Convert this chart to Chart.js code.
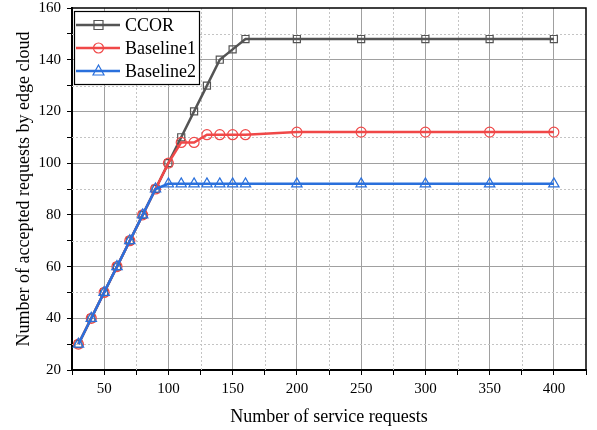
<!DOCTYPE html>
<html>
<head>
<meta charset="utf-8">
<script src="https://cdn.jsdelivr.net/npm/chart.js@4/dist/chart.umd.min.js"></script>
<style>
html,body{margin:0;padding:0;background:#fff;}
#wrap{position:relative;width:597px;height:430px;}
</style>
</head>
<body>
<div id="wrap"><canvas id="c" width="597" height="430"></canvas></div>
<script>
const xValues = [30,40,50,60,70,80,90,100,110,120,130,140,150,160,200,250,300,350,400];
const ccor = [30,40,50,60,70,80,90,100,110,120,130,140,144,148,148,148,148,148,148];
const baseline1 = [30,40,50,60,70,80,90,100,108,108,111,111,111,111,112,112,112,112,112];
const baseline2 = [30,40,50,60,70,80,90,92,92,92,92,92,92,92,92,92,92,92,92];
const seriesNames = ['CCOR','Baseline1','Baseline2'];
const xTickLabels = [50,100,150,200,250,300,350,400];
const yTickLabels = [20,40,60,80,100,120,140,160];

const FONT = "'Liberation Serif','Times New Roman',serif";
const colors = ['#545454','#f04848','#2a70dc'];
const shapes = ['rect','circle','triangle'];

function pts(ys){ return xValues.map((x,i)=>({x:x,y:ys[i]})); }

const minorGrid = {
  id:'minorGrid',
  beforeDatasetsDraw(chart){
    const {ctx, chartArea:a, scales:{x,y}} = chart;
    ctx.save();
    ctx.strokeStyle='#c4c4c4'; ctx.lineWidth=1; ctx.setLineDash([2,2]);
    for(let v=75; v<425; v+=50){
      const px=Math.round(x.getPixelForValue(v))+0.5;
      ctx.beginPath(); ctx.moveTo(px,a.top); ctx.lineTo(px,a.bottom); ctx.stroke();
    }
    for(let v=30; v<160; v+=20){
      const py=Math.round(y.getPixelForValue(v))+0.5;
      ctx.beginPath(); ctx.moveTo(a.left,py); ctx.lineTo(a.right,py); ctx.stroke();
    }
    ctx.restore();
  },
  afterDraw(chart){
    const {ctx, chartArea:a} = chart;
    ctx.save();
    ctx.strokeStyle='#000'; ctx.lineWidth=1.5;
    ctx.beginPath(); ctx.moveTo(a.left,a.top); ctx.lineTo(a.right,a.top); ctx.lineTo(a.right,a.bottom); ctx.stroke();
    // legend
    const lx=74, ly=11, lw=125, lh=73;
    ctx.fillStyle='#fff'; ctx.fillRect(lx,ly,lw,lh);
    ctx.lineWidth=1.2; ctx.strokeStyle='#000'; ctx.strokeRect(lx+0.5,ly+0.5,lw,lh);
    const rows=[25,48,71];
    ctx.font="18px "+FONT; ctx.textBaseline='middle'; ctx.textAlign='left';
    for(let i=0;i<3;i++){
      const yy=rows[i];
      ctx.strokeStyle=colors[i]; ctx.lineWidth=2.5;
      ctx.beginPath(); ctx.moveTo(76,yy); ctx.lineTo(120,yy); ctx.stroke();
      ctx.lineWidth=1.2; ctx.fillStyle='#fff';
      ctx.beginPath();
      if(i===0){ ctx.rect(94,yy-4.5,9,9); }
      else if(i===1){ ctx.arc(98.5,yy,5,0,Math.PI*2); }
      else { ctx.moveTo(98.5,yy-6); ctx.lineTo(104,yy+4); ctx.lineTo(93,yy+4); ctx.closePath(); }
      ctx.stroke();
      ctx.fillStyle='#000';
      ctx.fillText(seriesNames[i],125,yy+1);
    }
    ctx.restore();
  }
};

const mk = (i,data,order)=>({
  label:seriesNames[i], data:pts(data), borderColor:colors[i], backgroundColor:'rgba(255,255,255,0)',
  borderWidth:2.5, pointStyle:shapes[i], pointRadius: i===2?6:5, pointBorderWidth:1.2,
  pointBorderColor:colors[i], pointBackgroundColor:'rgba(255,255,255,0)', tension:0, order:order
});

new Chart(document.getElementById('c'),{
  type:'line',
  data:{datasets:[mk(0,ccor,3),mk(1,baseline1,2),mk(2,baseline2,1)]},
  plugins:[minorGrid],
  options:{
    responsive:false, animation:false, devicePixelRatio:1,
    layout:{padding:{left:13,right:11,top:8,bottom:0}},
    plugins:{legend:{display:false},tooltip:{enabled:false}},
    scales:{
      x:{type:'linear',min:25,max:425,
        afterBuildTicks(s){ s.ticks=[]; for(let v=25;v<=425;v+=25) s.ticks.push({value:v}); },
        afterFit(s){ s.height=60; s.paddingLeft=0; s.paddingRight=0; },
        ticks:{autoSkip:false,maxRotation:0,padding:5,color:'#000',font:{family:FONT,size:15},
          callback:(v)=> xTickLabels.includes(v)?String(v):''},
        grid:{color:(c)=> (c.tick && xTickLabels.includes(c.tick.value))?'#a0a0a0':'rgba(0,0,0,0)',
          tickColor:'#000',tickLength:5,lineWidth:1,drawTicks:true},
        border:{color:'#000',width:2},
        title:{display:true,text:'Number of service requests',color:'#000',font:{family:FONT,size:18},padding:{top:0,bottom:2}}
      },
      y:{type:'linear',min:20,max:160,
        afterBuildTicks(s){ s.ticks=[]; for(let v=20;v<=160;v+=10) s.ticks.push({value:v}); },
        afterFit(s){ s.width=59; s.paddingTop=0; s.paddingBottom=0; },
        ticks:{autoSkip:false,padding:6,color:'#000',font:{family:FONT,size:15},
          callback:(v)=> yTickLabels.includes(v)?String(v):''},
        grid:{color:(c)=> (c.tick && yTickLabels.includes(c.tick.value) && c.tick.value>20 && c.tick.value<160)?'#a0a0a0':'rgba(0,0,0,0)',
          tickColor:'#000',tickLength:5,lineWidth:1},
        border:{color:'#000',width:2},
        title:{display:true,text:'Number of accepted requests by edge cloud',color:'#000',font:{family:FONT,size:18},padding:{top:0,bottom:0}}
      }
    }
  }
});
</script>
</body>
</html>
